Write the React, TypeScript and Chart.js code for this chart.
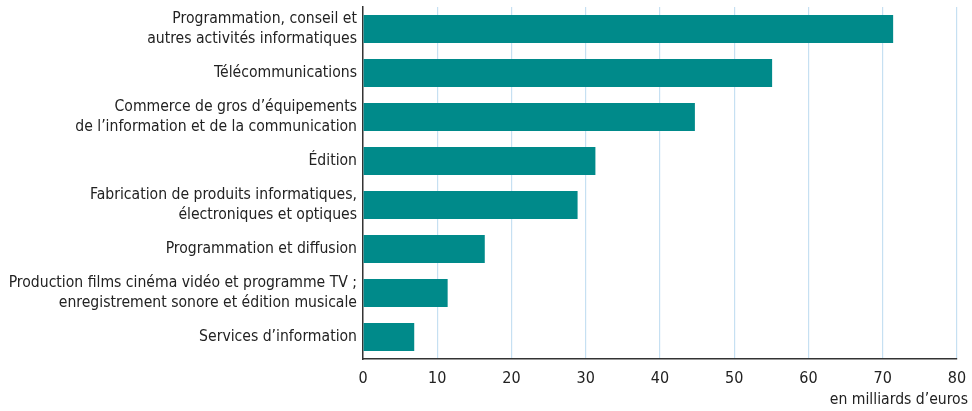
import React, { useEffect, useRef } from "react";
import { Chart, registerables } from "chart.js";

Chart.register(...registerables);

const categories: string[][] = [
  ["Programmation, conseil et", "autres activités informatiques"],
  ["Télécommunications"],
  ["Commerce de gros d’équipements", "de l’information et de la communication"],
  ["Édition"],
  ["Fabrication de produits informatiques,", "électroniques et optiques"],
  ["Programmation et diffusion"],
  ["Production films cinéma vidéo et programme TV ;", "enregistrement sonore et édition musicale"],
  ["Services d’information"],
];
const values: number[] = [71.4, 55.1, 44.7, 31.3, 28.9, 16.4, 11.4, 6.9];
const xTicks: number[] = [0, 10, 20, 30, 40, 50, 60, 70, 80];
const axisTitle = "en milliards d’euros";

const FONT = "'Liberation Sans Narrow', 'Arial Narrow', 'DejaVu Sans Condensed', sans-serif";

export default function App() {
  const ref = useRef<HTMLCanvasElement | null>(null);
  useEffect(() => {
    document.body.style.margin = "0";
    const canvas = ref.current!;
    const titlePlugin = {
      id: "xTitle",
      afterDraw(chart: any) {
        const ctx = chart.ctx;
        ctx.save();
        ctx.font = `15.6px ${FONT}`;
        ctx.fillStyle = "#222";
        ctx.textAlign = "right";
        ctx.textBaseline = "middle";
        ctx.fillText(axisTitle, chart.chartArea.right + 11, chart.chartArea.bottom + 41);
        ctx.restore();
      },
    };
    const chart = new Chart(canvas, {
      type: "bar",
      data: {
        labels: categories,
        datasets: [
          {
            data: values,
            backgroundColor: "#008a8a",
            borderWidth: 0,
            categoryPercentage: 1,
            barPercentage: 0.64,
          },
        ],
      },
      options: {
        indexAxis: "y",
        animation: false,
        responsive: false,
        maintainAspectRatio: false,
        layout: { padding: { top: 7, right: 15, bottom: 0, left: 0 } },
        plugins: { legend: { display: false }, tooltip: { enabled: false } },
        scales: {
          x: {
            min: 0,
            max: 80,
            afterBuildTicks: (scale: any) => {
              scale.ticks = xTicks.map((v) => ({ value: v }));
            },
            afterFit: (scale: any) => {
              scale.height = 52;
              scale.paddingLeft = 0;
              scale.paddingRight = 0;
            },
            grid: {
              drawTicks: false,
              color: (c: any) => (c.tick && c.tick.value === 0 ? "rgba(0,0,0,0)" : "#c6e0f2"),
              lineWidth: 1.2,
            },
            border: { display: true, color: "#333", width: 1.5 },
            ticks: {
              padding: 10,
              color: "#222",
              autoSkip: false,
              maxRotation: 0,
              font: { family: FONT, size: 16 },
            },
          },
          y: {
            afterFit: (scale: any) => {
              scale.width = 363;
              scale.paddingTop = 0;
              scale.paddingBottom = 0;
            },
            grid: { display: false, drawTicks: false },
            border: { display: true, color: "#333", width: 1.5 },
            ticks: {
              padding: 6,
              color: "#222",
              autoSkip: false,
              font: { family: FONT, size: 15.6, lineHeight: 1.28 },
            },
          },
        },
      },
      plugins: [titlePlugin],
    });
    return () => chart.destroy();
  }, []);
  return (
    <div style={{ width: 972, height: 411 }}>
      <canvas ref={ref} width={972} height={411} style={{ display: "block" }} />
    </div>
  );
}
